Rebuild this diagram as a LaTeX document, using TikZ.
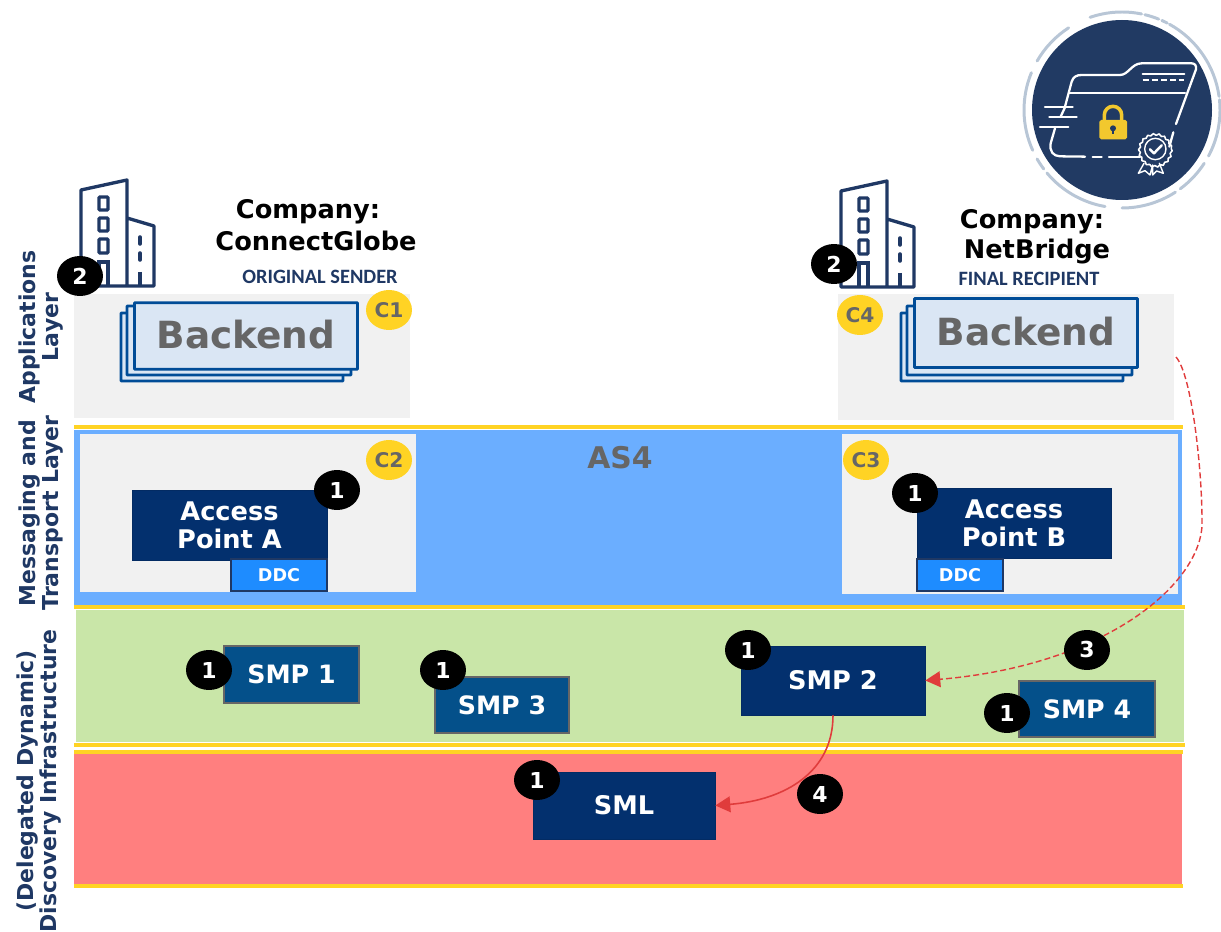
\documentclass[tikz,border=0pt]{standalone}
\usepackage{fontspec}
\usepackage{xcolor}
\setmainfont{DejaVu Sans}
\newfontfamily\carlitofont{Carlito}
\usetikzlibrary{arrows.meta}
\usetikzlibrary{shapes.geometric}
\usetikzlibrary{decorations.pathmorphing}
\definecolor{navy}{HTML}{1F3864}
\definecolor{apbox}{HTML}{03306E}
\definecolor{smpbox}{HTML}{04508A}
\definecolor{ddcblue}{HTML}{1E8CFF}
\definecolor{bandblue}{HTML}{6BAEFF}
\definecolor{bandgreen}{HTML}{C9E6A8}
\definecolor{bandred}{HTML}{FF7F7F}
\definecolor{layergray}{HTML}{F1F1F1}
\definecolor{goldline}{HTML}{FFD324}
\definecolor{backfill}{HTML}{DAE6F4}
\definecolor{backline}{HTML}{004C97}
\definecolor{textgray}{HTML}{666666}
\definecolor{arrowred}{HTML}{E03C3C}
\definecolor{ringgray}{HTML}{B8C6D6}
\definecolor{lockgold}{HTML}{F2C82E}
\definecolor{iconnavy}{HTML}{213A63}
\tikzset{
  numdot/.style={ellipse, fill=black, text=white, inner sep=0pt, minimum width=0.92cm, minimum height=0.8cm, font=\fontsize{12.5}{13}\selectfont\bfseries},
  cdot/.style={ellipse, fill=goldline, text=textgray, inner sep=0pt, minimum width=0.92cm, minimum height=0.8cm, font=\fontsize{11.5}{12}\selectfont\bfseries},
  apnode/.style={draw=apbox!90!black, fill=apbox, text=white, inner sep=0pt, align=center, font=\fontsize{14.6}{16}\selectfont\bfseries},
  smpnode/.style={draw=textgray, line width=0.8pt, fill=smpbox, text=white, inner sep=0pt, font=\fontsize{14.4}{16}\selectfont\bfseries},
  ddcnode/.style={draw=navy, line width=0.6pt, fill=ddcblue, text=white, inner sep=0pt, font=\fontsize{10}{12}\selectfont\bfseries},
  sheet/.style={draw=backline, line width=1.5pt, fill=backfill, rounded corners=0.3pt},
  backnode/.style={sheet, text=textgray, inner sep=0pt, text depth=2pt, font=\fontsize{21.3}{24}\selectfont\bfseries},
  layertext/.style={rotate=90, text=navy, align=center, font=\fontsize{12.5}{13.6}\selectfont\bfseries},
  compname/.style={text=black, font=\fontsize{14.6}{16}\selectfont\bfseries},
  roletext/.style={text=navy, font=\fontsize{11.6}{12}\selectfont\carlitofont\bfseries},
  goldrule/.style={draw=goldline, line width=1.9pt},
  icline/.style={draw=white, line width=1.3pt, line cap=round, line join=round},
  building/.pic={
    \draw [draw=navy, line width=1.9pt, line join=round, line cap=round]
      (81,286)--(81,190)--(127,180)--(127,286) (127,218)--(154,226)--(154,286) (81,286)--(154,286);
    \draw [draw=navy, line width=1.9pt, rounded corners=0.5pt] (99,197) rectangle (108,210);
    \draw [draw=navy, line width=1.9pt, rounded corners=0.5pt] (99,218) rectangle (108,231);
    \draw [draw=navy, line width=1.9pt, rounded corners=0.5pt] (99,239) rectangle (108,253);
    \draw [draw=navy, line width=1.9pt] (99,286)--(99,262)--(108,262)--(108,286);
    \draw [draw=navy, line width=2pt, line cap=round] (140,237)--(140,244);
    \draw [draw=navy, line width=2pt, line cap=round] (140,253)--(140,260);
    \draw [draw=navy, line width=2pt] (140,272)--(140,286);
  }
}
\begin{document}
\begin{tikzpicture}[x=0.02cm,y=-0.02cm]
\useasboundingbox (0,0) rectangle (1221,932);
% layer bands
\fill [layergray] (74,294) rectangle (410,418);
\fill [layergray] (838,294) rectangle (1174,420);
\fill [bandblue] (74,430) rectangle (1182,606);
\fill [layergray] (80,434) rectangle (416,592);
\fill [layergray] (842,434) rectangle (1178,594);
\fill [bandgreen] (76,610) rectangle (1184,742);
\fill [bandred] (74,754) rectangle (1182,886);
\draw [goldrule] (74,427) -- (1183,427);
\draw [goldrule] (74,607) -- (1185,607);
\draw [goldrule] (74,745) -- (1185,745);
\draw [goldrule] (74,752) -- (1183,752);
\draw [goldrule] (74,886) -- (1183,886);
% side labels
\node [layertext] (lblapp) at (41,327) {Applications\\Layer};
\node [layertext] (lblmsg) at (41,513) {Messaging and\\Transport Layer};
\node [layertext] (lbldisc) at (39,781) {(Delegated Dynamic)\\Discovery Infrastructure};
% companies
\pic at (0,0) {building};
\pic at (760,1) {building};
\node [compname] (compa) at (308,212) {Company:};
\node [compname] (globe) at (316,241) {ConnectGlobe};
\node [roletext] (sender) at (320,277) {ORIGINAL SENDER};
\node [compname] (compb) at (1032,222) {Company:};
\node [compname] (bridge) at (1037,252) {NetBridge};
\node [roletext] (recip) at (1029,279) {FINAL RECIPIENT};
% backend stacks
\draw [sheet] (121,313) rectangle (343,381);
\draw [sheet] (127,306) rectangle (351,375);
\node [backnode, minimum width=4.46cm, minimum height=1.33cm] (backa) at (246,336) {Backend};
\draw [sheet] (901,313) rectangle (1123,381);
\draw [sheet] (907,306) rectangle (1132,375);
\node [backnode, minimum width=4.46cm, minimum height=1.38cm] (backb) at (1026,333) {Backend};
\node [text=textgray, font=\fontsize{17}{18}\selectfont\bfseries] (astext) at (620,458) {AS4};
% access points
\node [apnode, minimum width=3.9cm, minimum height=1.4cm] (apa) at (229.5,525) {Access\\Point A};
\node [ddcnode, minimum width=1.92cm, minimum height=0.64cm] (ddca) at (279,575) {DDC};
\node [apnode, minimum width=3.88cm, minimum height=1.4cm] (apb) at (1014,523.5) {Access\\Point B};
\node [ddcnode, minimum width=1.72cm, minimum height=0.64cm] (ddcb) at (960,575) {DDC};
% discovery boxes
\node [smpnode, minimum width=2.7cm, minimum height=1.14cm] (smpone) at (291.5,674.5) {SMP 1};
\node [smpnode, minimum width=2.68cm, minimum height=1.12cm] (smpthree) at (502,705) {SMP 3};
\node [apnode, minimum width=3.68cm, minimum height=1.38cm] (smptwo) at (833,680.5) {SMP 2};
\node [smpnode, minimum width=2.72cm, minimum height=1.12cm] (smpfour) at (1087,709) {SMP 4};
\node [apnode, minimum width=3.64cm, minimum height=1.34cm] (sml) at (624,805.5) {SML};
% connectors
\coordinate (backout) at (1176,357);
\draw [arrowred, dash pattern=on 3.4pt off 1.8pt, line width=0.8pt, -{Triangle[length=8.5pt,width=9pt]}] (backout) .. controls (1192,375) and (1202,470) .. (1202,520) .. controls (1205,580) and (1110,665) .. (smptwo.east);
\draw [arrowred, line width=0.9pt, -{Triangle[length=8.5pt,width=9pt]}] (smptwo.south) .. controls (833,772) and (785,800) .. (sml.east);
% badges
\node [numdot] (twoa) at (80,276) {2};
\node [numdot] (twob) at (834,264) {2};
\node [numdot] (onea) at (337,490) {1};
\node [numdot] (oneb) at (915,493) {1};
\node [numdot] (onec) at (209,670) {1};
\node [numdot] (oned) at (443,670) {1};
\node [numdot] (onee) at (748,650) {1};
\node [numdot] (onef) at (1007,713) {1};
\node [numdot] (oneg) at (537,780) {1};
\node [numdot] (three) at (1087,650) {3};
\node [numdot] (four) at (820,794) {4};
\node [cdot] (cone) at (389,310) {C1};
\node [cdot] (ctwo) at (389,460) {C2};
\node [cdot] (cthree) at (866,460) {C3};
\node [cdot] (cfour) at (860,315) {C4};
% folder emblem
\foreach \a/\b in {109/78.5, 76.5/68, 66/62.5, 61/8, 6/-28, -33/-53.5, -57/-90, -100/-140, -143/-150, -155.7/-202.4, 150/123}
  \draw [ringgray, line width=1.7pt, line cap=round] ({1122+98*cos(\a)},{110-98*sin(\a)}) arc[start angle=-\a, end angle=-\b, radius=98];
\fill [iconnavy] (1122,110) circle (90);
\begin{scope}[shift={(1010,0)}, x=0.00667cm, y=-0.00667cm]
\draw [icline] (165,320) -- (185,245) .. controls (190,230) and (200,225) .. (215,225) -- (330,225) .. controls (355,225) and (365,190) .. (395,190) -- (545,190) .. controls (555,190) and (560,198) .. (558,208) -- (498,372);
\draw [icline] (178,280) -- (525,280);
\draw [icline] (398,222) -- (523,222);
\draw [icline, dash pattern=on 3.6pt off 1.6pt, line width=1.6pt, line cap=butt] (398,240) -- (523,240);
\draw [icline] (105,322) -- (188,322);
\draw [icline] (118,350) -- (200,350);
\draw [icline] (90,381) -- (175,381);
\draw [icline] (165,322) -- (152,350);
\draw [icline] (135,385) -- (122,430) .. controls (118,455) and (130,468) .. (150,469) -- (225,470);
\draw [icline] (248,470) -- (275,470);
\draw [icline] (297,470) -- (390,470);
\draw [icline] (490,397) -- (478,440);
% padlock
\draw [lockgold, line width=2pt] (283,365) -- (283,345) arc[start angle=180, end angle=360, radius=26] -- (335,365);
\fill [lockgold, rounded corners=1pt] (268,360) rectangle (351,418);
\fill [iconnavy] (309,385) circle (9);
\fill [iconnavy] (305,385) rectangle (313,403);
% seal
\draw [icline, line width=0.9pt, decorate, decoration={snake, segment length=3.2pt, amplitude=0.5pt}] (436,447) circle (48);
\draw [icline, line width=0.8pt] (436,447) circle (32);
\draw [icline, line width=1.4pt] (420,448) -- (432,460) -- (455,436);
\draw [icline, line width=0.8pt] (402,490) -- (385,520) -- (405,512) -- (420,525) -- (428,495) -- (428,525) -- (440,513) -- (460,520) -- (448,490);
\end{scope}
\end{tikzpicture}
\end{document}
